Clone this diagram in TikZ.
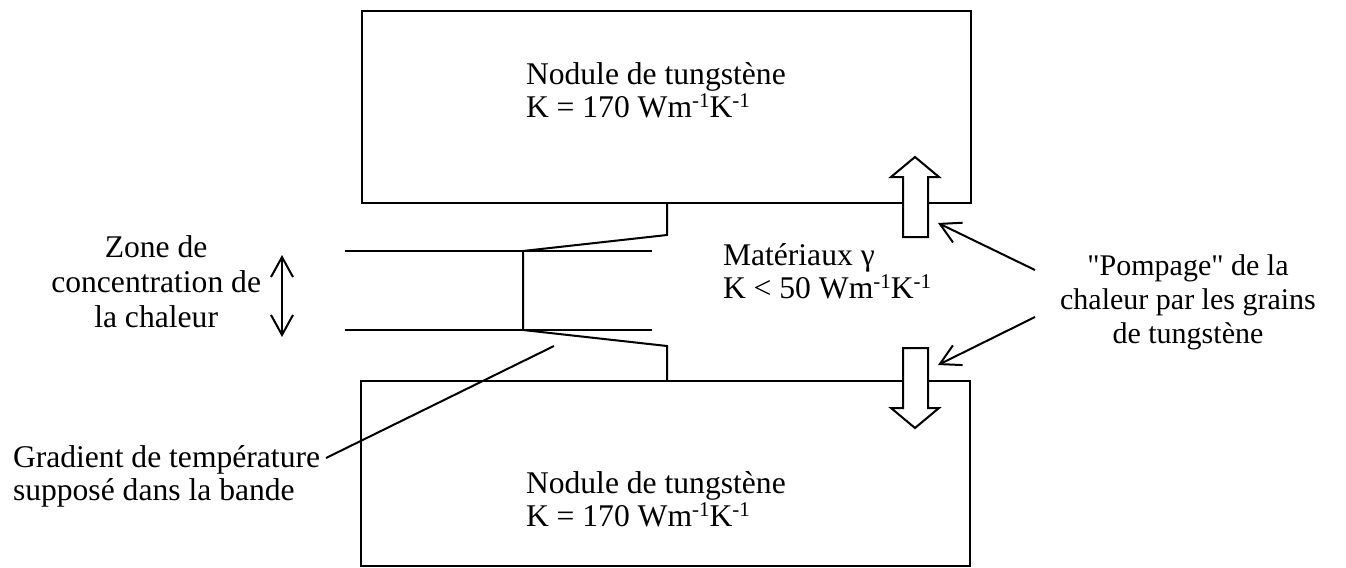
\documentclass[tikz,border=0pt]{standalone}
\usepackage{fontspec}
\setmainfont{Liberation Serif}[Ligatures=TeXOff]
\usetikzlibrary{arrows.meta}
\newcommand\supone{\raisebox{0.3em}{\fontsize{10.5}{10.5}\selectfont -1}}
\begin{document}
\begin{tikzpicture}[x=0.5pt,y=-0.5pt, line width=1pt,
  lbl/.style={inner sep=0pt, font=\fontsize{15.8}{17.5}\selectfont},
  slbl/.style={inner sep=0pt, font=\fontsize{15}{17}\selectfont},
  barb/.style={-{Straight Barb[length=10pt,width=11pt]}},
  dbarb/.style={{Straight Barb[length=10pt,width=11pt]}-{Straight Barb[length=10pt,width=11pt]}},
  box/.style={draw, line width=1pt, inner sep=0pt, outer sep=0pt, anchor=north west},
  blockarrow/.style={draw, fill=white, line width=1pt, line join=miter}]
\useasboundingbox (0,0) rectangle (1346,568);
% nodules
\node[box, minimum width=304.5pt, minimum height=96pt] (topbox) at (362,11) {};
\node[box, minimum width=304.5pt, minimum height=92.5pt] (botbox) at (361,381) {};
% band
\coordinate (a1) at (667,203);
\coordinate (a2) at (667,235);
\coordinate (c1) at (523,251);
\coordinate (c2) at (523,330);
\coordinate (b2) at (667,346);
\coordinate (b1) at (667,381);
\draw (a1) -- (a2) -- (c1) -- (c2) -- (b2) -- (b1);
\coordinate (h1l) at (345,251); \coordinate (h1r) at (652,251);
\coordinate (h2l) at (345,330); \coordinate (h2r) at (652,330);
\draw (h1l) -- (h1r);
\draw (h2l) -- (h2r);
% block arrows
\draw[blockarrow] (903,237) -- (903,177) -- (891,177) -- (915,157) -- (939,177) -- (928,177) -- (928,237) -- cycle;
\coordinate (upar) at (938,223);
\draw[blockarrow] (903,348) -- (928,348) -- (928,408) -- (939,408) -- (915,428) -- (891,408) -- (903,408) -- cycle;
\coordinate (dnar) at (938,365);
% texts
\node[lbl, anchor=base west] (t1a) at (525,84) {Nodule de tungstène};
\node[lbl, anchor=base west] (t1b) at (525,117) {K = 170 Wm\supone K\supone};
\node[lbl, anchor=base west] (t2a) at (525,493) {Nodule de tungstène};
\node[lbl, anchor=base west] (t2b) at (525,526) {K = 170 Wm\supone K\supone};
\node[lbl, anchor=base west] (mat1) at (722,265) {Matériaux γ};
\node[lbl, anchor=base west] (mat2) at (722,298) {K < 50 Wm\supone K\supone};
\node[lbl, anchor=east, align=center] (zone) at (262,282) {Zone de\\concentration de\\la chaleur};
\node[lbl, anchor=base west] (grad1) at (12,467) {Gradient de température};
\node[lbl, anchor=base west] (grad2) at (12,500) {supposé dans la bande};
\node[slbl, align=center] (pomp) at (1188,302) {"Pompage" de la\\chaleur par les grains\\de tungstène};
% connectors
\draw[dbarb] (282,255) -- (282,337);
\coordinate (p1) at (1035,270);
\coordinate (p2) at (1035,317);
\draw[barb] (p1) -- (upar);
\draw[barb] (p2) -- (dnar);
\coordinate (g1) at (326,458);
\coordinate (g2) at (554,346);
\draw (g1) -- (g2);
\end{tikzpicture}
\end{document}
